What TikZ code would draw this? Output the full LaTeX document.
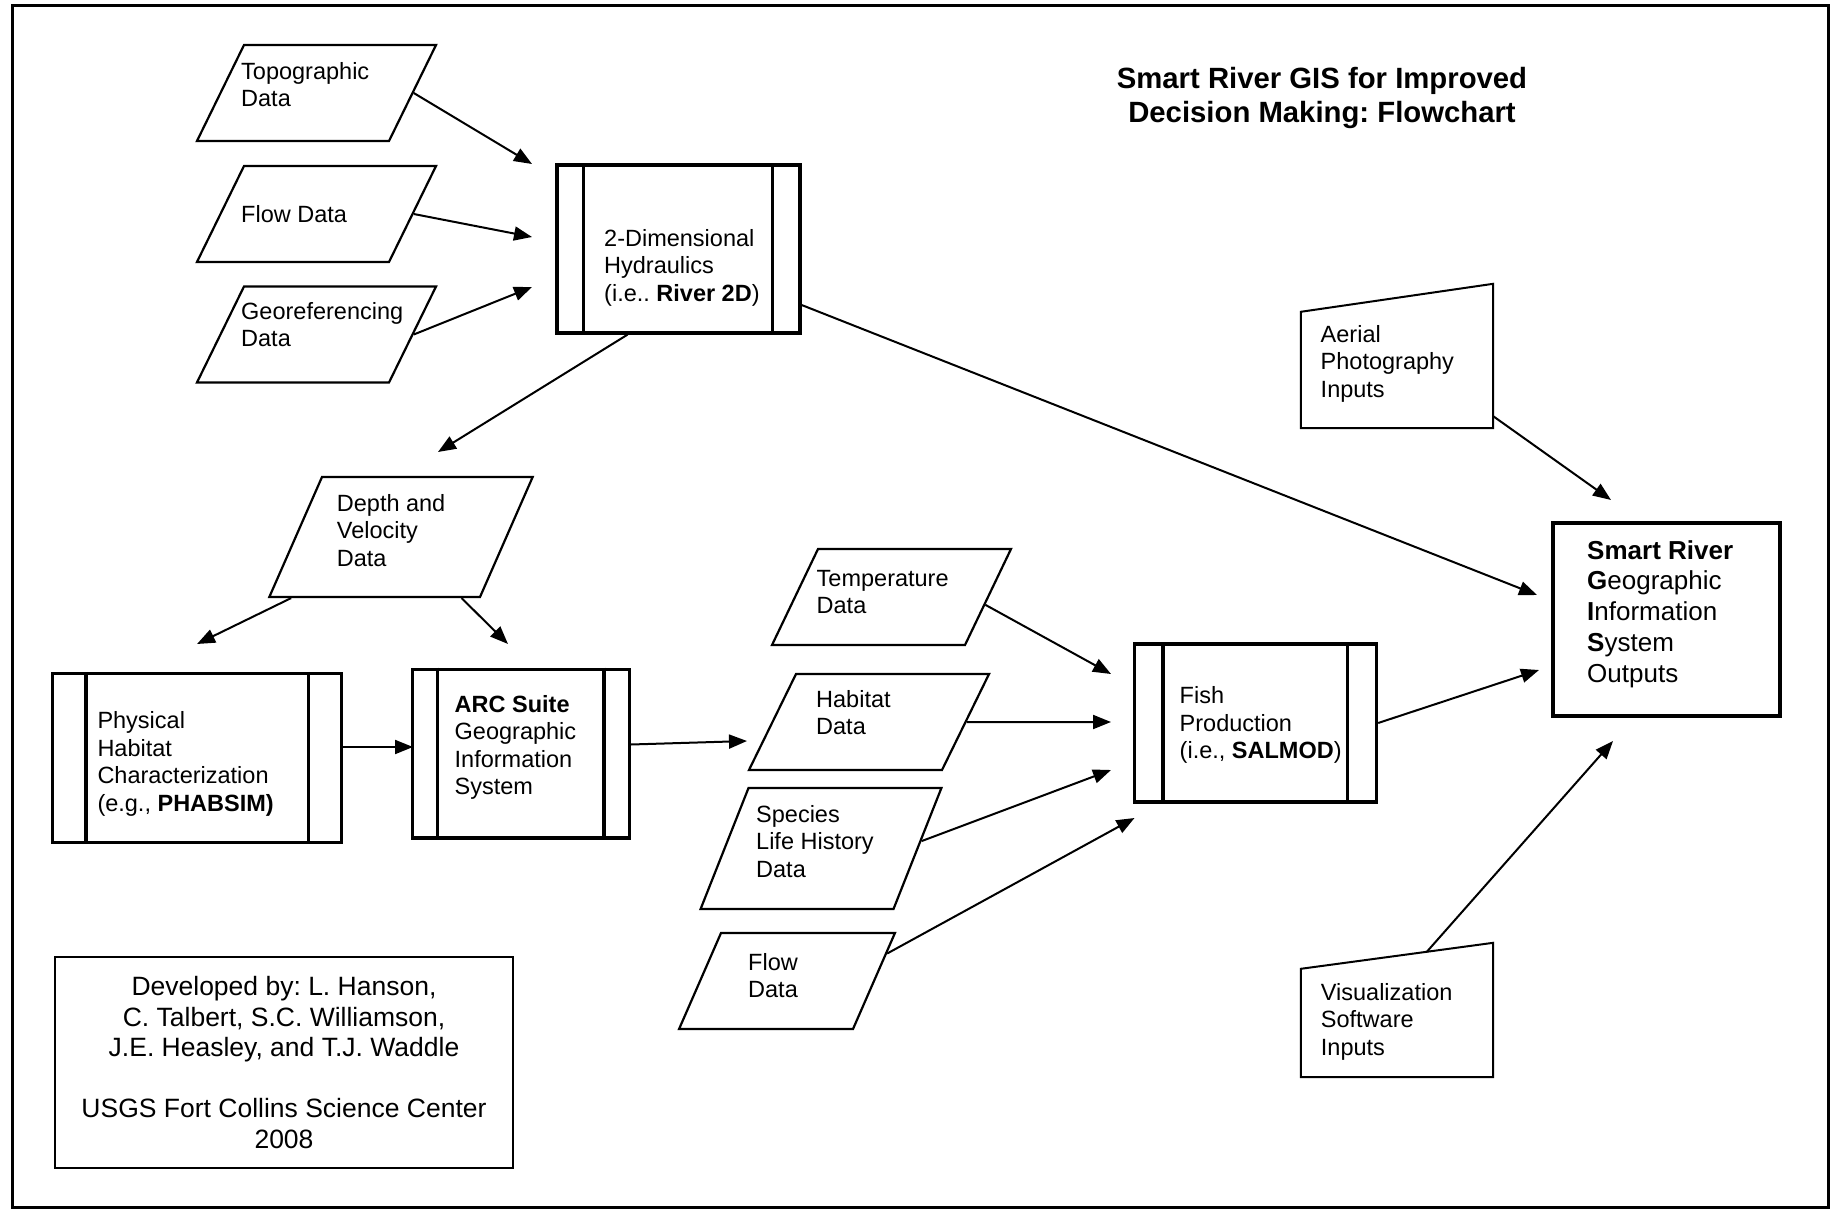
\documentclass[tikz,border=0pt]{standalone}
\usepackage{fontspec}
\setmainfont{Liberation Sans}
\usetikzlibrary{shapes.geometric, arrows.meta, calc}

\begin{document}
\frenchspacing
\begin{tikzpicture}[x=1pt, y=-1pt,
	data/.style={draw, line width=2.2pt, trapezium, inner xsep=0pt, inner ysep=0pt, text depth=0pt},
	proc/.style={draw, line width=3.3pt, inner sep=0pt},
	inbox/.style={draw, line width=2pt, inner sep=0pt},
	txt/.style={anchor=north west, inner sep=0pt, align=left, font=\fontsize{23.5}{27.5}\selectfont},
	link/.style={line width=2pt, -{Triangle[length=18pt, width=14pt]}}]
	\useasboundingbox (0,0) rectangle (1835,1209);
	\draw [line width=3pt] (12.5,5.5) rectangle (1828,1207);

	\node [anchor=north, inner sep=0pt, align=center, font=\fontsize{29.3}{34}\selectfont\bfseries] (title) at (1322,67) {Smart River GIS for Improved\\Decision Making: Flowchart};

	\node [data, trapezium left angle=63.9, trapezium right angle=116.1, text width=145pt, text height=96pt] (topo) at (316.5,93) {};
	\node [data, trapezium left angle=63.9, trapezium right angle=116.1, text width=145pt, text height=96pt] (flow) at (316.5,214) {};
	\node [data, trapezium left angle=63.9, trapezium right angle=116.1, text width=145pt, text height=96pt] (geo) at (316.5,334.5) {};
	\node [txt] (topo-t) at (241,62) {Topographic\\Data};
	\node [txt] (flow-t) at (241,205) {Flow Data};
	\node [txt] (geo-t) at (241,302) {Georeferencing\\Data};

	\node [proc, minimum width=243pt, minimum height=168pt] (hyd) at (678.5,249) {};
	\draw [line width=3.3pt] ([xshift=28pt]hyd.north west) -- ([xshift=28pt]hyd.south west);
	\draw [line width=3.3pt] ([xshift=-29pt]hyd.north east) -- ([xshift=-29pt]hyd.south east);
	\node [txt] (hyd-t) at (604,229) {2-Dimensional\\Hydraulics\\(i.e.. \textbf{River 2D})};

	\node [data, trapezium left angle=66.3, trapezium right angle=113.7, text width=158pt, text height=120pt] (dep) at (401,537) {};
	\node [txt] (dep-t) at (336.7,494) {Depth and\\Velocity\\Data};

	\node [proc, minimum width=289pt, minimum height=169pt] (phys) at (197,758) {};
	\draw [line width=3.3pt] ([xshift=35pt]phys.north west) -- ([xshift=35pt]phys.south west);
	\draw [line width=3.3pt] ([xshift=-34.5pt]phys.north east) -- ([xshift=-34.5pt]phys.south east);
	\node [txt] (phys-t) at (97.3,711.7) {Physical\\Habitat\\Characterization\\(e.g., \textbf{PHABSIM)}};

	\node [proc, minimum width=216.5pt, minimum height=168.7pt] (arc) at (521,753.5) {};
	\draw [line width=3.3pt] ([xshift=26.7pt]arc.north west) -- ([xshift=26.7pt]arc.south west);
	\draw [line width=3.3pt] ([xshift=-26.8pt]arc.north east) -- ([xshift=-26.8pt]arc.south east);
	\node [txt] (arc-t) at (454.5,695) {\textbf{ARC Suite}\\Geographic\\Information\\System};

	\node [data, trapezium left angle=64.4, trapezium right angle=115.6, text width=147pt, text height=96pt] (temp) at (891.5,597) {};
	\node [data, trapezium left angle=63.9, trapezium right angle=116.1, text width=146pt, text height=96pt] (hab) at (869,722) {};
	\node [data, trapezium left angle=68.4, trapezium right angle=111.6, text width=145pt, text height=121pt] (spec) at (821,848.5) {};
	\node [data, trapezium left angle=66.4, trapezium right angle=113.6, text width=132pt, text height=96pt] (fl2) at (787,981) {};
	\node [txt] (temp-t) at (816.5,570) {Temperature\\Data};
	\node [txt] (hab-t) at (816,690) {Habitat\\Data};
	\node [txt] (spec-t) at (756,805) {Species\\Life History\\Data};
	\node [txt] (fl2-t) at (748,953) {Flow\\Data};

	\node [proc, minimum width=242pt, minimum height=158pt] (fish) at (1255.5,723) {};
	\draw [line width=3.3pt] ([xshift=30pt]fish.north west) -- ([xshift=30pt]fish.south west);
	\draw [line width=3.3pt] ([xshift=-30.8pt]fish.north east) -- ([xshift=-30.8pt]fish.south east);
	\node [txt] (fish-t) at (1179.5,686.7) {Fish\\Production\\(i.e., \textbf{SALMOD})};

	\node [inner sep=0pt, minimum width=192pt, minimum height=144pt] (aer) at (1397,356) {};
	\draw [line width=2pt] ([yshift=-28pt]aer.north west) -- (aer.north east) -- (aer.south east) -- (aer.south west) -- cycle;
	\node [txt] (aer-t) at (1320.5,325) {Aerial\\Photography\\Inputs};

	\node [inner sep=0pt, minimum width=192pt, minimum height=134pt] (vis) at (1397,1010) {};
	\draw [line width=2pt] ([yshift=-26pt]vis.north west) -- coordinate[pos=.655] (vis-top) (vis.north east) -- (vis.south east) -- (vis.south west) -- cycle;
	\node [txt] (vis-t) at (1320.7,983) {Visualization\\Software\\Inputs};

	\node [proc, line width=4pt, minimum width=227pt, minimum height=193pt] (gis) at (1666.5,619.5) {};
	\node [txt, font=\fontsize{26}{30.75}\selectfont] (gis-t) at (1587,540) {\textbf{Smart River}\\\textbf{G}eographic\\\textbf{I}nformation\\\textbf{S}ystem\\Outputs};

	\node [inbox, minimum width=458pt, minimum height=211pt, align=center, font=\fontsize{26.5}{30.5}\selectfont] (cred) at (284,1062.5) {Developed by: L. Hanson,\\C. Talbert, S.C. Williamson,\\J.E. Heasley, and T.J. Waddle\\[30.5pt]USGS Fort Collins Science Center\\2008};

	\coordinate (hyd-in1) at (532,164);
	\coordinate (hyd-in2) at (532,237);
	\coordinate (hyd-in3) at (532,287);
	\coordinate (dep-in) at (438,452);
	\coordinate (phys-in) at (197,644);
	\coordinate (arc-in1) at (508,644);
	\coordinate (arc-in2) at (413,747);
	\coordinate (hab-in) at (747,741);
	\coordinate (fish-in1) at (1111,674);
	\coordinate (fish-in2) at (1111,722);
	\coordinate (fish-in3) at (1111,770);
	\coordinate (fish-in4) at (1134.5,818);
	\coordinate (gis-in1) at (1537,595);
	\coordinate (gis-in2) at (1539,670);
	\coordinate (gis-in3) at (1611,500);
	\coordinate (gis-in4) at (1613,741);

	\draw [link] (topo.east) -- (hyd-in1);
	\draw [link] (flow.east) -- (hyd-in2);
	\draw [link] (geo.east) -- (hyd-in3);
	\draw [link] ([xshift=-51pt]hyd.south) -- (dep-in);
	\draw [link] ([yshift=-56pt]hyd.east) -- (gis-in1);
	\draw [link] ($(dep.bottom left corner)!.11!(dep.bottom right corner)$) -- (phys-in);
	\draw [link] ($(dep.bottom left corner)!.91!(dep.bottom right corner)$) -- (arc-in1);
	\draw [link] ([yshift=11pt]phys.east) -- (arc-in2);
	\draw [link] ([yshift=9pt]arc.east) -- (hab-in);
	\draw [link] ($(temp.top right corner)!.58!(temp.bottom right corner)$) -- (fish-in1);
	\draw [link] (hab.east) -- (fish-in2);
	\draw [link] ($(spec.top right corner)!.44!(spec.bottom right corner)$) -- (fish-in3);
	\draw [link] ($(fl2.top right corner)!.22!(fl2.bottom right corner)$) -- (fish-in4);
	\draw [link] (fish.east) -- (gis-in2);
	\draw [link] ([yshift=12pt]aer.south east) -- (gis-in3);
	\draw [link] (vis-top) -- (gis-in4);
\end{tikzpicture}
\end{document}
